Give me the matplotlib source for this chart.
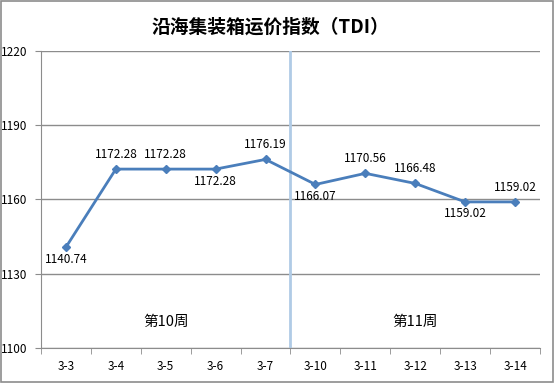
import numpy as np
import matplotlib.pyplot as plt
from matplotlib.patches import Rectangle

plt.rcParams['font.family'] = ['Noto Sans CJK SC', 'DejaVu Sans']

# data
dates = ['3-3', '3-4', '3-5', '3-6', '3-7', '3-10', '3-11', '3-12', '3-13', '3-14']
tdi = [1140.74, 1172.28, 1172.28, 1172.28, 1176.19, 1166.07, 1170.56, 1166.48, 1159.02, 1159.02]
label_pos = ['below', 'above', 'above', 'below', 'above', 'below', 'above', 'above', 'below', 'above']
week_labels = ['第10周', '第11周']
week_centers = [2, 7]
y_ticks = [1100, 1130, 1160, 1190, 1220]

fig = plt.figure(figsize=(5.54, 3.83), dpi=100)
ax = fig.add_axes([0.074, 0.0914, 0.9007, 0.7755])

x = np.arange(len(dates))
ax.plot(x, tdi, color='#4a7ebb', lw=2, marker='D', ms=4, zorder=3)

for xi, v, pos in zip(x, tdi, label_pos):
    if pos == 'above':
        ax.annotate(f'{v:.2f}', (xi, v), xytext=(0, 6), textcoords='offset points',
                    ha='center', va='bottom', fontsize=8.5)
    else:
        ax.annotate(f'{v:.2f}', (xi, v), xytext=(0, -4), textcoords='offset points',
                    ha='center', va='top', fontsize=8.5)

# week divider
ax.axvline(4.5, color='#b0cbe6', lw=2, zorder=2)
for lab, c in zip(week_labels, week_centers):
    ax.text(c, 1110.5, lab, ha='center', va='center', fontsize=10.5)

ax.set_xlim(-0.5, len(dates) - 0.5)
ax.set_ylim(1100, 1220)
ax.set_yticks(y_ticks)
ax.set_yticklabels([str(t) for t in y_ticks], fontsize=8.5)
ax.yaxis.grid(True, color='#8c8c8c', lw=1)
ax.set_axisbelow(True)

ax.set_xticks(x)
ax.set_xticklabels(dates, fontsize=8.5)
ax.set_xticks(np.arange(-0.5, len(dates)), minor=True)
ax.tick_params(axis='x', which='major', length=0, pad=9)
ax.tick_params(axis='x', which='minor', length=4, color='#8c8c8c', direction='out')
ax.tick_params(axis='y', length=4, color='#8c8c8c', pad=6)

for s in ['top', 'right']:
    ax.spines[s].set_visible(False)
for s in ['left', 'bottom']:
    ax.spines[s].set_color('#8c8c8c')

fig.suptitle('沿海集装箱运价指数（TDI）', x=0.488, y=0.955, fontsize=13.5, fontweight='bold')

# outer border
fig.patches.append(Rectangle((0.002, 0.003), 0.996, 0.994, transform=fig.transFigure,
                             fill=False, edgecolor='#8c8c8c', lw=1.2))

fig.savefig('out.png', dpi=100)
